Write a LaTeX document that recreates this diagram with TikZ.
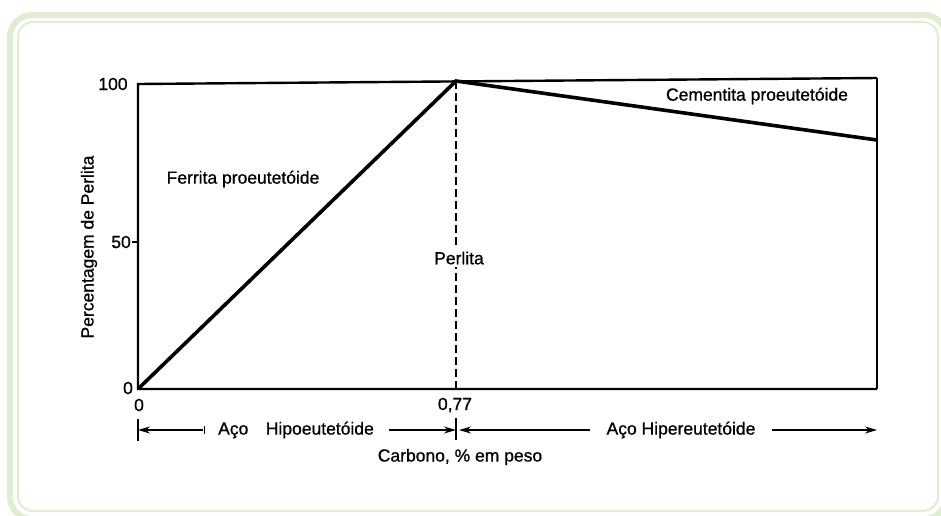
\documentclass[tikz,border=0pt]{standalone}
\usepackage{fontspec}
\setmainfont{Liberation Sans}
\usetikzlibrary{positioning,calc}
\usetikzlibrary{arrows.meta}
\definecolor{moldura}{HTML}{DFEDD0}

\begin{document}
\begin{tikzpicture}[x=1pt,y=-1pt,>={Stealth[length=12pt,width=7pt]},
                font=\fontsize{17.5}{20}\selectfont\addfontfeature{FakeBold=0.8},
                every node/.style={inner sep=1pt},
                eixo/.style={line width=2.4pt},
                curva/.style={line width=3.6pt},
                faixa/.style={line width=1.2pt}]
\useasboundingbox (0,0) rectangle (941,515);
\clip (0,0) rectangle (941,515);

% moldura
\draw[moldura,line width=6pt,rounded corners=22pt] (10,15) rectangle (946,519);
\draw[moldura,line width=2pt,rounded corners=15pt] (18,22) rectangle (938,511);

\coordinate (O)  at (138,389);
\coordinate (T)  at (138,84);
\coordinate (TR) at (877,78);
\coordinate (BR) at (877,389);
\coordinate (E)  at (456,81);
\coordinate (H)  at (877,140);
\coordinate (Y50) at (138,242);

\draw[eixo] (TR) -- (T) -- (O) -- (BR);
\draw[line width=1.6pt] (TR) -- (BR);
\draw[curva] (O) -- (E) -- (H);
\draw[line width=1.5pt,dash pattern=on 8pt off 4pt] (E) -- (E |- O);
\draw[line width=1.5pt] (Y50) -- ++(-6,0);

% escalas
\node (y100) at (113,84) {100};
\node[left=6pt of Y50] (y50) {50};
\node (y0) at (128,388) {0};
\node (x0) at (139,405) {0};
\node (x77) at (455,405) {0,77};

% textos
\node (ferrita) at (243,179) {Ferrita proeutetóide};
\node (cementita) at (757,96) {Cementita proeutetóide};
\node[fill=white,inner sep=3pt] (perlita) at (459,258) {Perlita};
\node[rotate=90] (ylabel) at (89,247) {Percentagem de Perlita};
\node (xlabel) at (460,457) {Carbono, \% em peso};

% faixas de aco
\coordinate (b0) at (138,430);
\coordinate (bE) at (456,430);
\coordinate (bR) at (877,430);
\node (hipo) at (296,430) {Aço\quad Hipoeutetóide};
\node (hiper) at (681,430) {Aço Hipereutetóide};

\draw[faixa,->] ([xshift=-14pt]hipo.west) -- (b0);
\draw[faixa,->] ([xshift=14pt]hipo.east) -- (bE);
\draw[faixa,->,shorten >=3pt] ([xshift=-15pt]hiper.west) -- (bE);
\draw[faixa,->] ([xshift=15pt]hiper.east) -- (bR);
\draw[line width=1.5pt] (b0) ++(0,-11) -- ++(0,22);
\draw[line width=1.5pt] (bE) ++(0,-12) -- ++(0,22);
\draw[line width=1pt] ([xshift=-12pt]hipo.west) ++(0,-4) -- ++(0,8);
\end{tikzpicture}
\end{document}
